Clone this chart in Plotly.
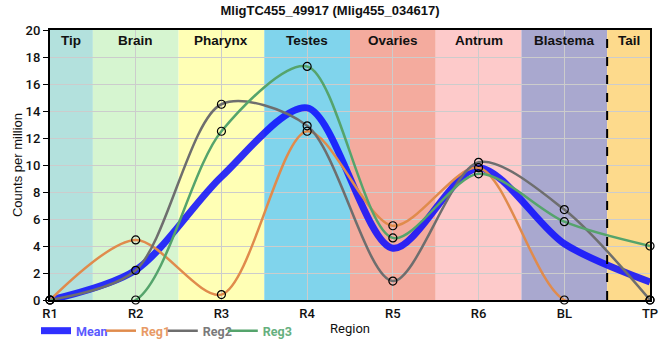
import plotly.graph_objects as go

regions = ["R1", "R2", "R3", "R4", "R5", "R6", "BL", "TP"]
reg1 = [0, 4.45, 0.4, 12.5, 5.5, 9.8, 0, 0]
reg2 = [0, 2.2, 14.5, 12.9, 1.4, 10.2, 6.7, 0]
reg3 = [0, 0, 12.5, 17.3, 4.6, 9.35, 5.8, 4.0]
mean = [(a + b + c) / 3 for a, b, c in zip(reg1, reg2, reg3)]

band_names = ["Tip", "Brain", "Pharynx", "Testes", "Ovaries", "Antrum", "Blastema", "Tail"]
band_start = [0, 0.5, 1.5, 2.5, 3.5, 4.5, 5.5, 6.5]
band_end = [0.5, 1.5, 2.5, 3.5, 4.5, 5.5, 6.5, 7]
band_colors = ["#b3e1dd", "#d6f5d0", "#ffffb5", "#80d4ec", "#f4ab9e", "#fdcaca", "#a9a8cf", "#fdda8c"]

series_colors = {"Reg1": "#e08b4c", "Reg2": "#6e6e6e", "Reg3": "#55a46c"}
text_colors = {"Mean": "#5a5aff", "Reg1": "#e89a66", "Reg2": "#7a7a7a", "Reg3": "#66b07e"}

SMOOTH = 0.85

fig = go.Figure()

fig.add_trace(go.Scatter(
    x=regions, y=mean, mode="lines", legend="legend",
    name=f"<span style='color:{text_colors['Mean']}'><b>Mean</b></span>",
    line=dict(color="rgba(10,10,255,0.85)", width=7, shape="spline", smoothing=SMOOTH),
    cliponaxis=False,
))
for i, (name, vals) in enumerate([("Reg1", reg1), ("Reg2", reg2), ("Reg3", reg3)]):
    c = series_colors[name]
    fig.add_trace(go.Scatter(
        x=regions, y=vals, mode="lines", legend=f"legend{i + 2}",
        name=f"<span style='color:{text_colors[name]}'><b>{name}</b></span>",
        line=dict(color=c, width=2.5, shape="spline", smoothing=SMOOTH),
        cliponaxis=False,
    ))
for name, vals in [("Reg1", reg1), ("Reg2", reg2), ("Reg3", reg3)]:
    fig.add_trace(go.Scatter(
        x=regions, y=vals, mode="markers", showlegend=False,
        marker=dict(size=8, color="rgba(0,0,0,0)", line=dict(color="black", width=1.2)),
        cliponaxis=False,
    ))

shapes = []
for s, e, col in zip(band_start, band_end, band_colors):
    shapes.append(dict(type="rect", xref="x", yref="paper", x0=s, x1=e, y0=0, y1=1,
                       fillcolor=col, line=dict(width=0), layer="below"))
shapes.append(dict(type="line", xref="x", yref="paper", x0=6.5, x1=6.5, y0=0, y1=1,
                   line=dict(color="black", width=2, dash="dash"), layer="above"))

annotations = []
for s, e, nm in zip(band_start, band_end, band_names):
    annotations.append(dict(x=(s + e) / 2, y=19.2, xref="x", yref="y", text=f"<b>{nm}</b>",
                            showarrow=False, font=dict(family="Liberation Sans, Arial", size=13.5, color="#111")))

legend_x = [-0.0233, 0.085, 0.188, 0.288]
legend_common = dict(orientation="h", xanchor="left", y=-0.115, yanchor="middle",
                     font=dict(family="Roboto", size=12.5), bgcolor="rgba(0,0,0,0)",
                     itemwidth=30, tracegroupgap=0)

fig.update_layout(
    width=660, height=360,
    margin=dict(l=50, r=10, t=30, b=60, autoexpand=False),
    paper_bgcolor="white", plot_bgcolor="white",
    title=dict(text="<b>MligTC455_49917 (Mlig455_034617)</b>", x=0.5, xanchor="center", y=0.985, yanchor="top",
               font=dict(family="Liberation Sans, Arial", size=13, color="#111")),
    shapes=shapes, annotations=annotations,
    showlegend=True,
    legend=dict(x=legend_x[0], **legend_common),
    legend2=dict(x=legend_x[1], **legend_common),
    legend3=dict(x=legend_x[2], **legend_common),
    legend4=dict(x=legend_x[3], **legend_common),
    xaxis=dict(type="category", range=[0, 7], categoryorder="array", categoryarray=regions,
               showgrid=True, gridcolor="#cccccc", gridwidth=1, automargin=False,
               showline=True, linecolor="black", linewidth=2, mirror=True,
               ticks="", tickfont=dict(family="Roboto", size=13, color="#111", weight=500),
               title=dict(text="Region", font=dict(family="Roboto", size=13, color="#111"), standoff=4),
               zeroline=False),
    yaxis=dict(range=[0, 20], dtick=2, showgrid=True, gridcolor="#cccccc", gridwidth=1, automargin=False,
               showline=True, linecolor="black", linewidth=2, mirror=True,
               ticks="outside", ticklen=5, tickcolor="black",
               tickfont=dict(family="Roboto", size=13, color="#111", weight=500),
               title=dict(text="Counts per million", font=dict(family="Liberation Sans, Arial", size=13, color="#111"), standoff=0),
               zeroline=False),
)

fig.write_html("out.html", config={"displayModeBar": False},
               post_script="document.body.style.margin='0';document.body.style.overflow='hidden';")
